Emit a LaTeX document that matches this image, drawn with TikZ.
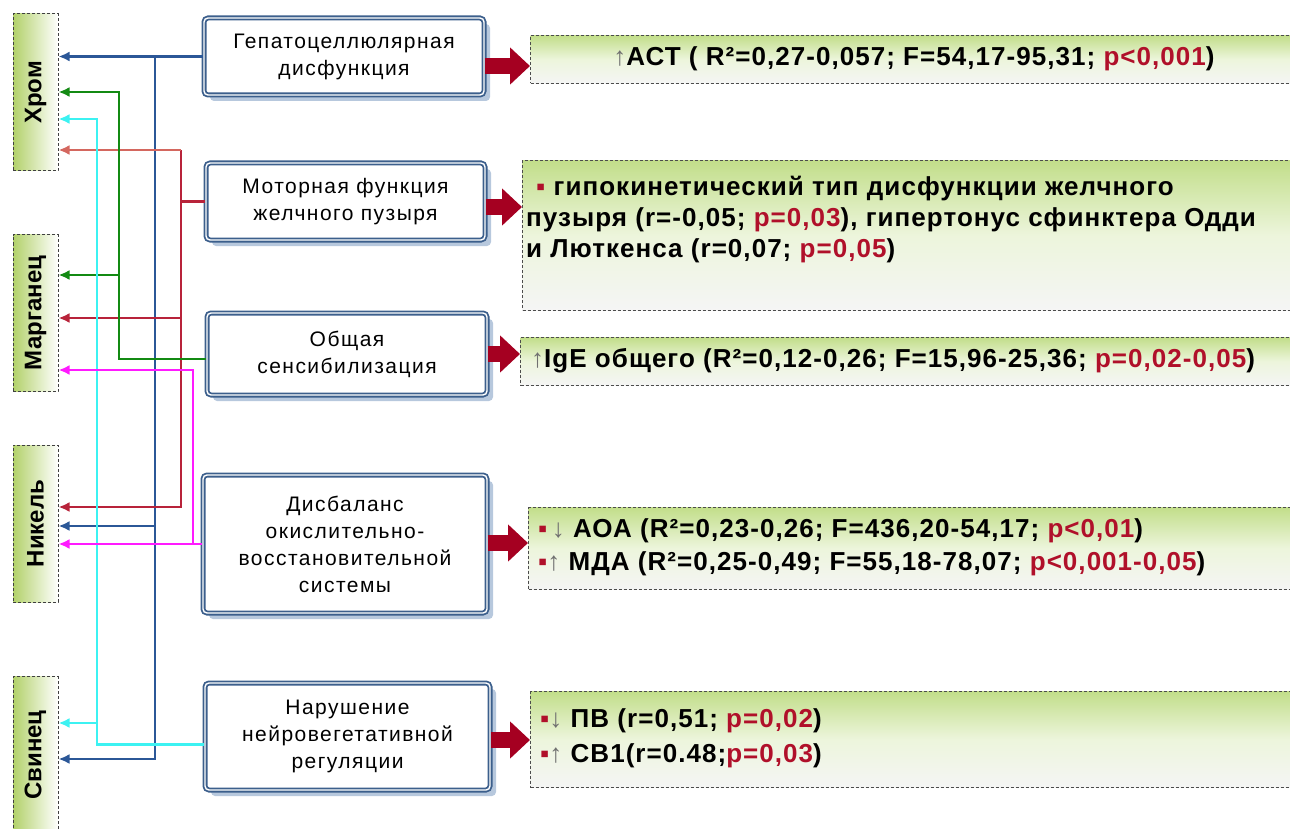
\documentclass[tikz,border=0pt]{standalone}
\usepackage{graphicx}
\usepackage{fontspec}
\setmainfont{Liberation Sans}
\newfontfamily\boxfont[LetterSpace=7]{Liberation Sans}
\newfontfamily\resfont[LetterSpace=4]{Liberation Sans}
\usetikzlibrary{arrows.meta, shadows}

\definecolor{cblue}{HTML}{2B5797}
\definecolor{cred}{HTML}{B8233A}
\definecolor{credlight}{HTML}{D4675F}
\definecolor{cgreen}{HTML}{138A13}
\definecolor{ccyan}{HTML}{3CF2F2}
\definecolor{cmag}{HTML}{FF1AFF}
\definecolor{arrowred}{HTML}{A50021}
\definecolor{pred}{HTML}{B0102A}
\definecolor{boxblue}{HTML}{3C5F8C}
\definecolor{shadowblue}{HTML}{B7C8DD}
\definecolor{elemgreen}{HTML}{B2D16A}
\definecolor{resgreen}{HTML}{C2DE8A}
\definecolor{arrowgray}{HTML}{707070}

\newcommand{\upar}{{\mdseries\color{arrowgray}↑}}
\newcommand{\dnar}{{\mdseries\color{arrowgray}↓}}
\newcommand{\pv}[1]{{\color{pred}#1}}
\newcommand{\sqb}{{\color{pred}▪}}
\newcommand{\elemtext}[1]{\rotatebox{90}{#1}}

\tikzset{
  elembox/.style={draw=black!75, line width=1pt, dash pattern=on 3pt off 2pt,
    left color=elemgreen, right color=white, inner sep=0pt,
    minimum width=45pt, minimum height=157pt,
    font=\fontsize{24}{28}\selectfont\bfseries},
  factorbox/.style={draw=boxblue, line width=1.8pt, double=white, double distance=1.4pt,
    rounded corners=4pt, fill=white, align=center, inner sep=0pt,
    font=\boxfont\fontsize{21}{27}\selectfont,
    drop shadow={shadow xshift=6pt, shadow yshift=-6pt, fill=shadowblue, opacity=1}},
  resbox/.style={draw=black!70, line width=1pt, dash pattern=on 3pt off 2pt,
    top color=resgreen, bottom color=white!96!black, middle color=resgreen!30!white,
    inner sep=0pt, minimum width=780pt, anchor=north west},
  restext/.style={inner sep=0pt, align=left, font=\resfont\fontsize{26}{31}\selectfont\bfseries},
  link/.style={line width=2.8pt, -{Latex[length=11pt,width=10pt]}},
  bigarrow/.style={arrowred, line width=16pt, -{Triangle[length=20pt,width=36pt]}}
}

\begin{document}
\begin{tikzpicture}[x=1pt, y=-1pt]
\useasboundingbox (0,0) rectangle (1290,829);

% elements
\node[elembox] (chrom) at (35.5,92.5) {\elemtext{Хром}};
\node[elembox] (mang) at (35.5,313) {\elemtext{Марганец}};
\node[elembox] (nick) at (35.5,523.5) {\elemtext{Никель}};
\node[elembox] (lead) at (35.5,755) {\elemtext{Свинец}};

% disorders
\node[factorbox, minimum width=280pt, minimum height=77pt] (hep) at (344,56.5) {Гепатоцеллюлярная\\дисфункция};
\node[factorbox, minimum width=279pt, minimum height=77pt] (motor) at (345.5,201.5) {Моторная функция\\желчного пузыря};
\node[factorbox, minimum width=280pt, minimum height=82pt] (sens) at (347,354) {Общая\\сенсибилизация};
\node[factorbox, minimum width=284pt, minimum height=138pt] (disb) at (345,544) {Дисбаланс\\окислительно-\\восстановительной\\системы};
\node[factorbox, minimum width=285pt, minimum height=107pt] (neuro) at (347.5,736.5) {Нарушение\\нейровегетативной\\регуляции};

% results
\node[resbox, minimum height=48pt] (res1) at (530,35) {};
\node[resbox, minimum height=150pt] (res2) at (522,160) {};
\node[resbox, minimum height=48pt] (res3) at (520,337) {};
\node[resbox, minimum height=82pt] (res4) at (528,507) {};
\node[resbox, minimum height=96pt] (res5) at (530,691) {};

\node[restext] (t1) at (914,59) {\upar АСТ ( R²=0,27-0,057; F=54,17-95,31; \pv{p<0,001})};
\node[restext, anchor=north west] (t2) at (526,176) {\hspace*{10pt}\sqb\ гипокинетический тип дисфункции желчного\\
пузыря (r=-0,05; \pv{p=0,03}), гипертонус сфинктера Одди\\
и Люткенса (r=0,07; \pv{p=0,05})};
\node[restext, anchor=west] (t3) at (531,361) {\upar IgE общего (R²=0,12-0,26; F=15,96-25,36; \pv{p=0,02-0,05})};
\node[restext, anchor=west, font=\resfont\fontsize{26}{33}\selectfont\bfseries] (t4) at (538,547) {\sqb\,\dnar\ АОА (R²=0,23-0,26; F=436,20-54,17; \pv{p<0,01})\\
\sqb\upar\ МДА (R²=0,25-0,49; F=55,18-78,07; \pv{p<0,001-0,05})};
\node[restext, anchor=west, font=\resfont\fontsize{26}{35}\selectfont\bfseries] (t5) at (540,738) {\sqb\dnar\ ПВ (r=0,51; \pv{p=0,02})\\
\sqb\upar\ СВ1(r=0.48;\pv{p=0,03})};

% trunks
\coordinate (xc) at (97,0);
\coordinate (xg) at (119,0);
\coordinate (xb) at (155,0);
\coordinate (xr) at (181,0);
\coordinate (xm) at (193,0);

% blue
\draw[link, cblue] (hep.west) -- (chrom.east |- hep.west);
\draw[link, cblue] (xb |- hep.west) |- (nick.east |- 0,526);
\draw[link, cblue] (xb |- hep.west) |- (lead.east |- 0,759);
% red
\draw[link, cred] (motor.west) -- (xr |- motor.west) |- (mang.east |- 0,318);
\draw[link, cred] (xr |- motor.west) |- (nick.east |- 0,507);
\draw[cred, line width=2.8pt] (xr |- motor.west) -- (xr |- 0,150);
\draw[link, credlight] (xr |- 0,150) -- (chrom.east |- 0,150);
% green
\draw[link, cgreen] ([yshift=-5pt]sens.west) -| (xg |- 0,92) -- (chrom.east |- 0,92);
\draw[link, cgreen] (xg |- 0,275) -- (mang.east |- 0,275);
% cyan
\draw[link, ccyan] ([yshift=-8pt]neuro.west) -| (xc |- 0,119) -- (chrom.east |- 0,119);
\draw[link, ccyan] (xc |- 0,723) -- (lead.east |- 0,723);
% magenta
\draw[link, cmag] (disb.west) -| (xm |- 0,370) -- (mang.east |- 0,370);
\draw[link, cmag] (xm |- disb.west) -- (nick.east |- disb.west);

% big arrows
\draw[bigarrow] (hep.east |- 0,66) -- (res1.west |- 0,66);
\draw[bigarrow] (motor.east |- 0,207) -- (res2.west |- 0,207);
\draw[bigarrow] (sens.east |- 0,354) -- (res3.west |- 0,354);
\draw[bigarrow] (disb.east |- 0,543) -- (res4.west |- 0,543);
\draw[bigarrow] (neuro.east |- 0,740) -- (res5.west |- 0,740);
\end{tikzpicture}
\end{document}
